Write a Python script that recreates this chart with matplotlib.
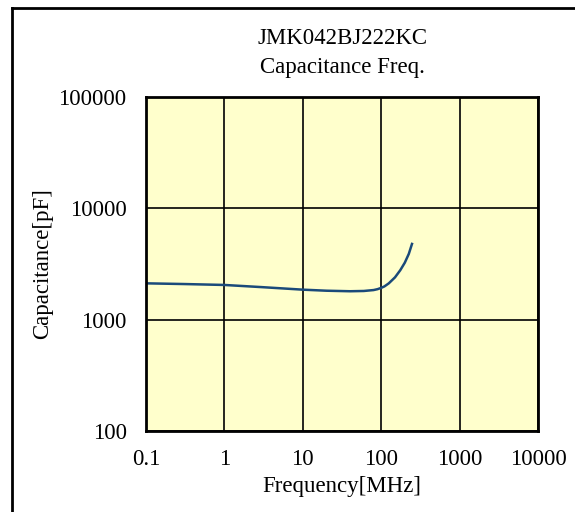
import matplotlib.pyplot as plt
from matplotlib.lines import Line2D

# values
freq_mhz = [0.1, 0.3, 1, 3, 10, 20, 40, 60, 80, 90, 100, 110, 125, 150, 175, 200, 225, 247]
cap_pf = [2120, 2090, 2050, 1960, 1860, 1820, 1800, 1810, 1845, 1880, 1930, 1990, 2120, 2400, 2780, 3250, 3900, 4790]

x_ticks = [0.1, 1, 10, 100, 1000, 10000]
x_tick_labels = ['0.1', '1', '10', '100', '1000', '10000']
y_ticks = [100, 1000, 10000, 100000]
y_tick_labels = ['100', '1000', '10000', '100000']

plt.rcParams['font.family'] = ['Liberation Serif', 'DejaVu Serif']
fs = 16.5

fig = plt.figure(figsize=(5.75, 5.12), dpi=100)
ax = fig.add_axes([146 / 575, 1 - 431 / 512, 392 / 575, 334 / 512])
ax.set_facecolor('#FFFFCC')

ax.plot(freq_mhz, cap_pf, color='#1A4A7A', lw=1.8)

ax.set_xscale('log')
ax.set_yscale('log')
ax.set_xlim(0.1, 10000)
ax.set_ylim(100, 100000)
ax.set_xticks(x_ticks)
ax.set_xticklabels(x_tick_labels)
ax.set_yticks(y_ticks)
ax.set_yticklabels(y_tick_labels)
ax.minorticks_off()
ax.tick_params(length=0, labelsize=fs)
ax.tick_params(axis='x', pad=13)
ax.tick_params(axis='y', pad=14)
ax.grid(True, color='black', lw=1.2)
for s in ax.spines.values():
    s.set_linewidth(2)
    s.set_color('black')

ax.set_xlabel('Frequency[MHz]', fontsize=fs, labelpad=4)
ax.set_ylabel('Capacitance[pF]', fontsize=fs, labelpad=4)

fig.text(0.5 * (146 + 538) / 575, 1 - 39 / 512, 'JMK042BJ222KC', ha='center', va='center', fontsize=fs)
fig.text(0.5 * (146 + 538) / 575, 1 - 67 / 512, 'Capacitance Freq.', ha='center', va='center', fontsize=fs)

# outer frame (only left and top edges fall inside the picture)
fig.add_artist(Line2D([12 / 575, 12 / 575], [0, 1 - 8 / 512], color='black', lw=2, transform=fig.transFigure))
fig.add_artist(Line2D([12 / 575, 1], [1 - 8 / 512, 1 - 8 / 512], color='black', lw=2, transform=fig.transFigure))

fig.savefig('out.png', dpi=100)
